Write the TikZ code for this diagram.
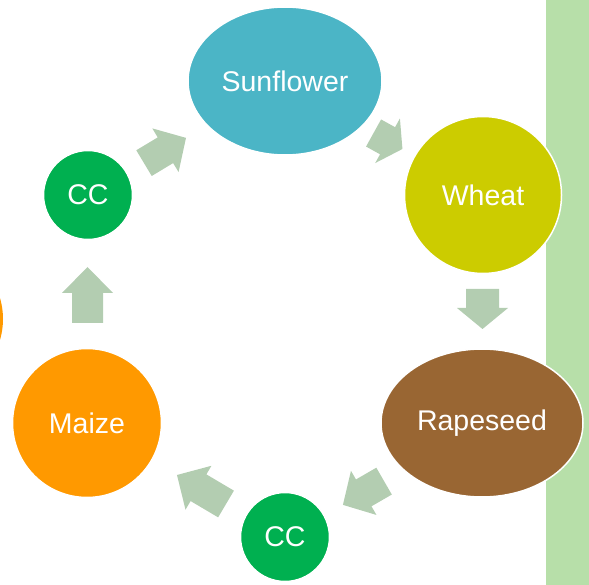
\documentclass[tikz,border=0pt]{standalone}
\usepackage{fontspec}
\setmainfont{Liberation Sans}
\usetikzlibrary{shapes.geometric}
\definecolor{sunc}{HTML}{4BB5C6}
\definecolor{wheatc}{HTML}{CCCC00}
\definecolor{rapec}{HTML}{996633}
\definecolor{maizec}{HTML}{FF9900}
\definecolor{ccc}{HTML}{00B050}
\definecolor{arrc}{HTML}{B3CDB1}
\definecolor{barc}{HTML}{B7DFA9}
\newcommand\blockarr[6]{% cx, cy, angle, length, headlen, shaft width
  \begin{scope}[shift={(#1,#2)}, rotate=#3]
    \fill[arrc] ({-#4/2},{-#6/2}) -- ({#4/2-#5},{-#6/2}) -- ({#4/2-#5},-25.5)
      -- ({#4/2},0) -- ({#4/2-#5},25.5) -- ({#4/2-#5},{#6/2}) -- ({-#4/2},{#6/2}) -- cycle;
  \end{scope}}
\begin{document}
\begin{tikzpicture}[x=1pt,y=-1pt,
  cropnode/.style={draw=white, line width=1.5pt, text=white, inner sep=0pt,
    font=\fontsize{28.5}{34}\selectfont},
  cropell/.style={cropnode, ellipse},
  cropcirc/.style={cropnode, circle}]
\useasboundingbox (0,0) rectangle (589,585);
\clip (0,0) rectangle (589,585);
\fill[barc] (546,0) rectangle (589,585);
\node[cropcirc, fill=maizec, draw=none, minimum size=148pt] (prev) at (-71,319) {};
% nodes
\node[cropell, fill=sunc, minimum width=194pt, minimum height=148pt] (sun) at (285,81) {Sunflower};
\node[cropcirc, fill=wheatc, minimum size=157pt] (wheat) at (483,195) {Wheat};
\node[cropell, fill=rapec, minimum width=202pt, minimum height=148pt] (rape) at (482,423) {Rapeseed};
\node[cropcirc, fill=ccc, minimum size=89pt] (cc2) at (285,537) {CC};
\node[cropcirc, fill=maizec, minimum size=149pt] (maize) at (87,423) {Maize};
\node[cropcirc, fill=ccc, minimum size=89pt] (cc1) at (88,195) {CC};
% arrows
\blockarr{165}{150.5}{31}{49}{24}{30}
\blockarr{388}{141}{-29}{33}{17}{31}
\blockarr{482.5}{309}{-90}{40}{21}{33}
\blockarr{363.5}{493}{210}{47.5}{24}{31}
\blockarr{201.5}{489.5}{149.4}{57}{25}{31}
\blockarr{87.5}{295}{90}{56}{26}{31}
\end{tikzpicture}
\end{document}
